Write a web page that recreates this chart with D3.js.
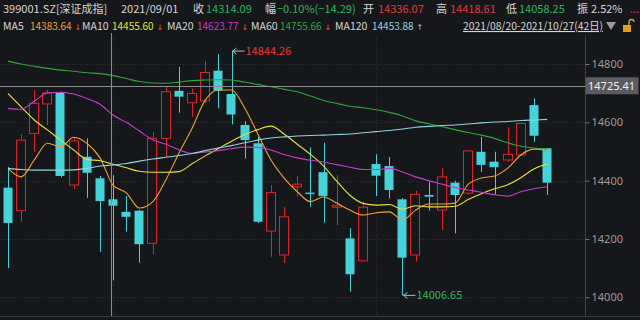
<!DOCTYPE html>
<html>
<head>
<meta charset="utf-8">
<script src="https://cdn.jsdelivr.net/npm/d3@7"></script>
<style>
  body { margin: 0; background: #16171b; }
  svg { display: block; font-family: "Noto Sans CJK SC", "Noto Sans", sans-serif; }
</style>
</head>
<body>
<svg id="chart" width="640" height="320"></svg>
<script>
// Daily candles 2021/08/20 - 2021/10/27 (42 trading days)
const dates = ['08/20','08/23','08/24','08/25','08/26','08/27','08/30','08/31','09/01','09/02',
  '09/03','09/06','09/07','09/08','09/09','09/10','09/13','09/14','09/15','09/16',
  '09/17','09/22','09/23','09/24','09/27','09/28','09/29','09/30','10/08','10/11',
  '10/12','10/13','10/14','10/15','10/18','10/19','10/20','10/21','10/22','10/25',
  '10/26','10/27'];
const opens  = [14376,14297,14562,14663,14701,14385,14482,14408,14336.07,14293,
  14297,14185,14545,14708,14667,14673,14777,14697,14591,14528,
  14227,14145,14379,14359,14429,14309,14202,14125,14457,14450,
  14336,14145,14351,14299,14393,14357,14499,14465,14471,14488,
  14659,14511];
const highs  = [14447,14559,14711,14711,14705,14550,14545,14416,14418.61,14347,
  14300,14568,14722,14790,14716,14811,14834,14844.26,14604,14550,
  14385,14309,14416,14514,14530,14419,14237,14328,14490,14481,
  14340,14365,14396,14442,14400,14505,14550,14499,14583,14600,
  14682,14512];
const lows   = [14100,14259,14499,14591,14411,14371,14341,14156,14058.25,14225,
  14119,14147,14482,14633,14619,14665,14648,14593,14476,14255,
  14139,14117,14345,14311,14256,14248,14019,14125,14347,14339,
  14006.65,14122,14297,14231,14219,14352,14430,14354,14465,14485,
  14533,14351];
const closes = [14255,14539,14665,14701,14416,14536,14427,14330,14314.09,14276,
  14182,14545,14705,14688,14699,14771,14708,14627,14539,14259,
  14359,14276,14388,14354,14347,14314,14079,14309,14417,14368,
  14136,14353,14345,14413,14351,14502,14454,14446,14490,14596,
  14554,14393];

// moving averages as drawn
const ma5   = [14442,14413,14471,14528,14516,14549,14528,14478,14384,14358,
  14306,14327,14402,14494,14580,14676,14711,14711,14649,14560,
  14471,14409,14362,14328,14344,14323,14299,14282,14290,14293,
  14265,14299,14320,14320,14323,14388,14409,14416,14443,14488,
  14508,14505];
const ma10  = [14699,14653,14608,14574,14539,14505,14473,14468,14456,14444,
  14432,14429,14429,14431,14458,14485,14510,14535,14558,14575,
  14587,14560,14525,14490,14450,14398,14350,14322,14316,14318,
  14302,14314,14310,14310,14312,14335,14355,14372,14386,14410,
  14440,14457];
const ma20  = [14648,14645,14672,14701,14703,14697,14682,14662,14624,14600,
  14570,14540,14525,14506,14494,14498,14503,14510,14515,14514,
  14505,14490,14478,14470,14464,14455,14446,14438,14438,14442,
  14430,14413,14400,14388,14376,14368,14360,14352,14347,14362,
  14372,14379];
const ma60  = [14810,14800,14792,14785,14779,14775,14770,14767,14760,14750,
  14740,14735,14734,14738,14743,14745,14746,14745,14738,14730,
  14722,14713,14705,14690,14675,14665,14655,14650,14643,14634,
  14622,14605,14595,14585,14575,14565,14556,14545,14530,14518,
  14512,14508];
const ma120 = [14442,14438,14436,14436,14436,14437,14442,14450,14454,14459,
  14467,14474,14480,14486,14493,14503,14512,14520,14530,14539,
  14546,14550,14553,14555,14556,14558,14560,14564,14568,14572,
  14577,14583,14586,14589,14591,14594,14598,14601,14603,14606,
  14608,14610];

const yTicks = [14000, 14200, 14400, 14600, 14800];
const monthStarts = ['09/01', '10/08'];
const cursorDate = '09/01';
const cursorPrice = 14725.41;

const maNames  = ['MA5', 'MA10', 'MA20', 'MA60', 'MA120'];
const maLast   = ['14383.64', '14455.60', '14623.77', '14755.66', '14453.88'];
const maTrend  = ['↓', '↓', '↓', '↓', '↑'];

const BG = '#16171b';
const UP = '#d9262c';
const DOWN = '#45d2d9';
const TEXT = '#d6d6d6';
const RED_TXT = '#e8373c';
const GREEN_TXT = '#2fb560';
const MA_COLORS = ['#f0a030', '#e6e23c', '#c83cc8', '#2fa43a', '#8ed6de'];

const svg = d3.select('#chart');
const W = 640;
const plotRight = 585.5;
const plotTop = 36;
const plotBottom = 316;

const candles = dates.map((d, i) => ({
  date: d, open: opens[i], high: highs[i], low: lows[i], close: closes[i]
}));

const x = d3.scaleBand().domain(dates).range([1.4, 553.7]).paddingInner(0);
const cx = d => x(d) + x.bandwidth() / 2;
const y = d3.scaleLinear().domain([14000, 14800]).range([297.3, 64]);
const bodyW = x.bandwidth() * 0.78;

svg.append('rect').attr('width', W).attr('height', 320).attr('fill', BG);

// grid
const grid = svg.append('g');
grid.selectAll('.hg').data(yTicks).join('line')
  .attr('x1', 0).attr('x2', plotRight)
  .attr('y1', d => Math.round(y(d)) + 0.5).attr('y2', d => Math.round(y(d)) + 0.5)
  .attr('stroke', '#2e2f35').attr('stroke-dasharray', '1,2');
grid.selectAll('.vg').data(monthStarts).join('line')
  .attr('x1', d => Math.round(cx(d)) + 0.5).attr('x2', d => Math.round(cx(d)) + 0.5)
  .attr('y1', plotTop).attr('y2', plotBottom)
  .attr('stroke', '#2e2f35').attr('stroke-dasharray', '1,2');

// axis frame
svg.append('line').attr('x1', plotRight).attr('x2', plotRight)
  .attr('y1', plotTop).attr('y2', plotBottom).attr('stroke', '#404147');
svg.append('line').attr('x1', 0).attr('x2', W)
  .attr('y1', plotBottom + 0.5).attr('y2', plotBottom + 0.5).attr('stroke', '#3a3b40');

// right axis
const axis = d3.axisRight(y).tickValues(yTicks).tickSize(4).tickPadding(2).tickFormat(d3.format('d'));
const axisG = svg.append('g').attr('transform', `translate(${plotRight},0)`).call(axis);
axisG.select('.domain').remove();
axisG.selectAll('line').attr('stroke', '#777');
axisG.selectAll('text').attr('fill', '#9a9a9a').style('font-size', '11px')
  .style('font-family', '"Noto Sans", sans-serif');

// candles
const cg = svg.append('g');
const cand = cg.selectAll('g').data(candles).join('g');
cand.append('line')
  .attr('x1', d => Math.round(cx(d.date)) + 0.5).attr('x2', d => Math.round(cx(d.date)) + 0.5)
  .attr('y1', d => y(d.high)).attr('y2', d => y(d.low))
  .attr('stroke', d => d.close >= d.open ? UP : DOWN).attr('stroke-width', 1);
cand.append('rect')
  .attr('x', d => Math.round(cx(d.date) - bodyW / 2) + 0.5)
  .attr('width', Math.round(bodyW) - 1)
  .attr('y', d => y(Math.max(d.open, d.close)))
  .attr('height', d => Math.max(1, Math.abs(y(d.open) - y(d.close))))
  .attr('fill', d => d.close >= d.open ? BG : DOWN)
  .attr('stroke', d => d.close >= d.open ? UP : DOWN)
  .attr('stroke-width', d => d.close >= d.open ? 1 : 0);

// moving average lines
const maSeries = [ma5, ma10, ma20, ma60, ma120];
const line = d3.line().x((v, i) => cx(dates[i])).y(v => y(v)).curve(d3.curveMonotoneX);
svg.append('g').selectAll('path').data(maSeries).join('path')
  .attr('d', line).attr('fill', 'none')
  .attr('stroke', (d, i) => MA_COLORS[i]).attr('stroke-width', 1.1);

// extreme markers
function marker(date, value, color) {
  const px = cx(date) + 1, py = y(value);
  const g = svg.append('g');
  g.append('line').attr('x1', px).attr('x2', px + 12).attr('y1', py).attr('y2', py)
    .attr('stroke', '#b8b8b8');
  g.append('path').attr('d', `M${px},${py} l4,-3 M${px},${py} l4,3`)
    .attr('stroke', '#b8b8b8').attr('fill', 'none');
  g.append('text').attr('x', px + 13).attr('y', py + 4)
    .attr('fill', color).style('font-size', '11px').text(d3.format('.2f')(value));
}
const hiIdx = d3.maxIndex(highs), loIdx = d3.minIndex(lows);
marker(dates[hiIdx], highs[hiIdx], RED_TXT);
marker(dates[loIdx], lows[loIdx], GREEN_TXT);

// crosshair
const chx = Math.round(cx(cursorDate)) - 1.5;
svg.append('line').attr('x1', chx).attr('x2', chx).attr('y1', 33).attr('y2', plotBottom)
  .attr('stroke', '#8c8c8c');
svg.append('line').attr('x1', 0).attr('x2', plotRight)
  .attr('y1', Math.round(y(cursorPrice)) + 0.5).attr('y2', Math.round(y(cursorPrice)) + 0.5)
  .attr('stroke', '#8c8c8c');
svg.append('rect').attr('x', plotRight).attr('y', y(cursorPrice) - 8.5)
  .attr('width', 53).attr('height', 17).attr('fill', '#5b5b60');
svg.append('text').attr('x', plotRight + 2.5).attr('y', y(cursorPrice) + 4)
  .attr('fill', '#f0f0f0').style('font-size', '11px').style('font-family', '"Noto Sans", sans-serif')
  .text(d3.format('.2f')(cursorPrice));

// header row 1
const ci = dates.indexOf(cursorDate);
const cur = candles[ci];
const prevClose = cur.close + 14.29;
const chg = cur.close - prevClose;
const amp = (cur.high - cur.low) / prevClose * 100;
const row1 = [
  { t: '399001.SZ[深证成指]', x: 3, c: TEXT },
  { t: '2021/' + cursorDate, x: 121, c: TEXT },
  { t: '收', x: 193, c: TEXT }, { t: d3.format('.2f')(cur.close), x: 206, c: GREEN_TXT },
  { t: '幅', x: 265, c: TEXT },
  { t: `${d3.format('.2f')(chg / prevClose * 100)}%(${d3.format('.2f')(chg)})`, x: 277, c: GREEN_TXT },
  { t: '开', x: 363, c: TEXT }, { t: d3.format('.2f')(cur.open), x: 378, c: RED_TXT },
  { t: '高', x: 436, c: TEXT }, { t: d3.format('.2f')(cur.high), x: 450, c: RED_TXT },
  { t: '低', x: 506, c: TEXT }, { t: d3.format('.2f')(cur.low), x: 519, c: GREEN_TXT },
  { t: '振', x: 577, c: TEXT }, { t: d3.format('.2f')(amp) + '%', x: 591, c: TEXT },
  { t: '...', x: 630, c: RED_TXT }
];
svg.append('g').selectAll('text').data(row1).join('text')
  .attr('x', d => d.x).attr('y', 13).attr('fill', d => d.c)
  .style('font-size', '11px').text(d => d.t);

// header row 2
const maX = [3, 82, 167, 251, 335];
const maValX = [30, 112, 197, 280, 372];
const row2 = svg.append('g');
maNames.forEach((n, i) => {
  row2.append('text').attr('x', maX[i]).attr('y', 30).attr('fill', TEXT)
    .style('font-size', '10.5px').text(n);
  row2.append('text').attr('x', maValX[i]).attr('y', 30).attr('fill', MA_COLORS[i])
    .style('font-size', '10px').text(maLast[i]);
  row2.append('text').attr('x', maValX[i] + 44.5).attr('y', 30)
    .attr('fill', i === 4 ? MA_COLORS[i] : '#e8602c')
    .style('font-family', '"DejaVu Sans", sans-serif').style('font-size', '8px')
    .text(maTrend[i]);
});
svg.append('text').attr('x', 463).attr('y', 30).attr('fill', TEXT)
  .style('font-size', '11px').style('text-decoration', 'underline')
  .attr('textLength', 140).attr('lengthAdjust', 'spacingAndGlyphs')
  .text(`2021/${dates[0]}-2021/${dates[dates.length - 1]}(${dates.length}日)`);
svg.append('path').attr('d', 'M606,22 L616,22 L611,30 Z').attr('fill', '#9a9a9a');
// lock icon
svg.append('rect').attr('x', 623).attr('y', 25).attr('width', 8).attr('height', 7).attr('fill', '#e0a020');
svg.append('path').attr('d', 'M629,25 v-3 a2.5,2.5 0 0 1 5,0').attr('stroke', '#e0a020')
  .attr('fill', 'none').attr('stroke-width', 1.3);
</script>
</body>
</html>
